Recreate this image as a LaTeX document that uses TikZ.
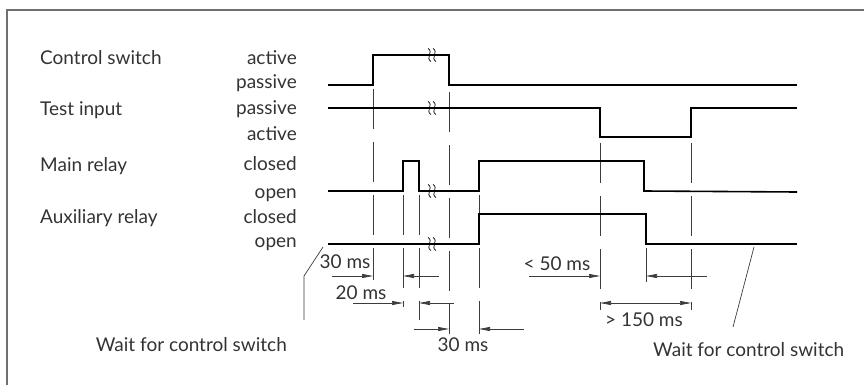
\documentclass[tikz,border=0pt]{standalone}
\usepackage{fontspec}
\setmainfont{Lato}
\usepackage{tikz}
\usetikzlibrary{arrows.meta}
\definecolor{framegray}{HTML}{707070}
\definecolor{textgray}{HTML}{333333}
\definecolor{guidegray}{HTML}{3C3C3C}
\tikzset{
    signal/.style={
        draw=black, line width=1.6pt, line join=miter
    },
    guide/.style={
        draw=guidegray, line width=0.7pt,
        dash pattern=on 40pt off 13pt
    },
    dim/.style={
        -{Triangle[length=11pt, width=4pt]}, line width=0.7pt, draw=guidegray
    },
    leader/.style={
        draw=guidegray, line width=0.7pt
    },
    label text/.style={
        inner sep=0pt, text=textgray,
        font=\fontsize{19}{22}\selectfont
    },
    brk/.pic={
        \foreach \dx in {-2.5,2.5}
            \draw[line width=0.7pt] (\dx-1.5,-6.5) .. controls (\dx+4.5,-3) and (\dx-4.5,3) .. (\dx+1.5,6.5);
    },
}

\begin{document}
\begin{tikzpicture}[
    x=1pt, y=-1pt,
    sig name/.style={label text, anchor=base west},
    state name/.style={label text, anchor=base east},
    dim label/.style={label text, anchor=base},
]
    \useasboundingbox (0,0) rectangle (864,385);
    \draw[draw=framegray, line width=1.2pt] (7,385) -- (7,10) -- (864,10);

    % signal names and states
    \node[sig name] (csName) at (40,65) {Control switch};
    \node[sig name] (tiName) at (40,116) {Test input};
    \node[sig name] (mrName) at (40,171) {Main relay};
    \node[sig name] (arName) at (40,223) {Auxiliary relay};

    \node[state name] (csHi) at (297,65) {active};
    \node[state name] (csLo) at (297,89) {passive};
    \node[state name] (tiHi) at (297,115) {passive};
    \node[state name] (tiLo) at (297,140) {active};
    \node[state name] (mrHi) at (297,170) {closed};
    \node[state name] (mrLo) at (297,198) {open};
    \node[state name] (arHi) at (297,223) {closed};
    \node[state name] (arLo) at (297,247) {open};

    % dashed time marks
    \foreach \x/\ya/\yb in {373/89/280, 403/195/307, 419/195/320, 449/92/334,
                            479/195/334, 600/143/310, 646/248/282, 691/143/310}
        \draw[guide] (\x,\ya) -- (\x,\yb);

    % waveforms
    \draw[signal] (328,85) -- (373,85) -- (373,55) -- (449,55) -- (449,85) -- (797,85);
    \draw[signal] (328,108) -- (600,108) -- (600,137) -- (691,137) -- (691,108) -- (797,108);
    \draw[signal] (328,191) -- (403,191) -- (403,161) -- (419,161) -- (419,191)
        -- (479,191) -- (479,161) -- (644,161) -- (644,191) -- (797,192);
    \draw[signal] (328,244) -- (479,244) -- (479,214) -- (646,214) -- (646,244) -- (797,244);

    \foreach \y in {55,108,191,244}
        \pic at (432,\y) {brk};

    % timings
    \coordinate (csOn) at (373,276);
    \coordinate (mrOn) at (403,276);
    \coordinate (pulseA) at (403,303);
    \coordinate (pulseB) at (419,303);
    \coordinate (csOff) at (449,329);
    \coordinate (relOn) at (479,329);
    \coordinate (tiOn) at (600,276);
    \coordinate (arOff) at (646,276);
    \coordinate (tiLoA) at (600,303);
    \coordinate (tiLoB) at (691,303);

    \draw[dim] ([xshift=-41pt]csOn) -- (csOn);
    \draw[dim] ([xshift=36pt]mrOn) -- (mrOn);
    \draw[dim] ([xshift=-50pt]pulseA) -- (pulseA);
    \draw[dim] ([xshift=35pt]pulseB) -- (pulseB);
    \draw[dim] ([xshift=-35pt]csOff) -- (csOff);
    \draw[dim] ([xshift=45pt]relOn) -- (relOn);
    \draw[dim] ([xshift=-71pt]tiOn) -- (tiOn);
    \draw[dim] ([xshift=61pt]arOff) -- (arOff);
    \draw[dim, {Triangle[length=11pt, width=4pt]}-{Triangle[length=11pt, width=4pt]}] (tiLoA) -- (tiLoB);

    \node[dim label] (t30a) at (345,268) {30 ms};
    \node[dim label] (t20) at (361,299) {20 ms};
    \node[dim label] (t30b) at (463,351) {30 ms};
    \node[dim label] (t50) at (557,270) {< 50 ms};
    \node[dim label] (t150) at (644,326) {> 150 ms};

    % waiting notes
    \node[label text, anchor=base east] (waitL) at (287,351) {Wait for control switch};
    \node[label text, anchor=base west] (waitR) at (653,356) {Wait for control switch};
    \coordinate (waitLtip) at (323,247);
    \coordinate (waitRtip) at (754,247);
    \draw[leader] (waitLtip) -- (304,276) -- (304,320);
    \draw[leader] (waitRtip) -- (733,327);
\end{tikzpicture}
\end{document}
